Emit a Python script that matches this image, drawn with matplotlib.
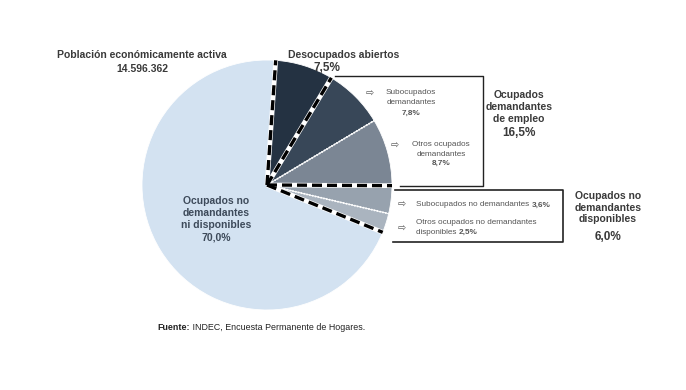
import numpy as np
import matplotlib
matplotlib.use("Agg")
import matplotlib.pyplot as plt

plt.rcParams['font.family'] = ['Liberation Sans', 'DejaVu Sans']

# Data
categories = ["Desocupados abiertos", "Subocupados demandantes", "Otros ocupados demandantes",
              "Subocupados no demandantes", "Otros ocupados no demandantes disponibles",
              "Ocupados no demandantes ni disponibles"]
values = [7.5, 7.8, 8.7, 3.6, 2.5, 70.0]
colors = ["#243242", "#384758", "#7b8694", "#97a2ae", "#aab4bf", "#d3e2f1"]
# boundary styles after each slice: 'dash' or 'dot'
boundary_styles = ["dash", "dot", "dash", "dot", "dash"]

W, H = 686, 390
fig = plt.figure(figsize=(W / 100, H / 100), dpi=100)
ax = fig.add_axes([0, 0, 1, 1])

def Y(y):
    return H - y

cx, cy, R = 267, Y(185), 125
start = 86
ax.pie(values, colors=colors, startangle=start, counterclock=False,
       center=(cx, cy), radius=R, wedgeprops=dict(linewidth=0.6, edgecolor="white"))

tot = sum(values)
angles = [start]
for v in values:
    angles.append(angles[-1] - v / tot * 360)

def radial(a, style):
    x1 = cx + R * np.cos(np.radians(a))
    y1 = cy + R * np.sin(np.radians(a))
    if style == "dash":
        ax.plot([cx, x1], [cy, y1], color="white", lw=3.4, solid_capstyle="butt", zorder=5)
        ax.plot([cx, x1], [cy, y1], color="black", lw=2.4, dashes=(3.0, 1.5), zorder=6)
    else:
        ax.plot([cx, x1], [cy, y1], color="white", lw=1.3, dashes=(0.8, 0.8), zorder=5)

radial(angles[0], "dash")
for a, s in zip(angles[1:-1], boundary_styles):
    radial(a, s)

# boxes
lc = "#222222"
ax.plot([335, 483, 483, 400], [Y(76), Y(76), Y(186), Y(186)], color=lc, lw=1.0, zorder=1)
ax.plot([395, 563, 563, 393], [Y(190), Y(190), Y(242), Y(242)], color=lc, lw=1.2, zorder=1)

dark = "#3a3a3a"
slate = "#3d4a5a"
gray = "#555555"
BF = 7.5
PF = 8.5
SF = 5.9

ax.text(142, Y(55), "Población económicamente activa", ha="center", va="center",
        fontsize=BF, fontweight="bold", color=dark)
ax.text(142, Y(69), "14.596.362", ha="center", va="center",
        fontsize=BF, fontweight="bold", color=dark)

ax.text(344, Y(55), "Desocupados abiertos", ha="center", va="center",
        fontsize=BF, fontweight="bold", color=dark)
ax.text(327, Y(68), "7,5%", ha="center", va="center",
        fontsize=PF, fontweight="bold", color=dark)

arrow = "\u21e8"
AF = 7
ax.text(370, Y(94), arrow, ha="center", va="center", fontsize=AF, color=gray,
        family="DejaVu Sans")
ax.text(411, Y(93), "Subocupados", ha="center", va="center", fontsize=SF, color=gray)
ax.text(411, Y(103), "demandantes", ha="center", va="center", fontsize=SF, color=gray)
ax.text(411, Y(113), "7,8%", ha="center", va="center", fontsize=SF, fontweight="bold", color=gray)

ax.text(395, Y(146), arrow, ha="center", va="center", fontsize=AF, color=gray,
        family="DejaVu Sans")
ax.text(441, Y(144), "Otros ocupados", ha="center", va="center", fontsize=SF, color=gray)
ax.text(441, Y(154), "demandantes", ha="center", va="center", fontsize=SF, color=gray)
ax.text(441, Y(163), "8,7%", ha="center", va="center", fontsize=SF, fontweight="bold", color=gray)

for yy, s in zip([95, 107, 119], ["Ocupados", "demandantes", "de empleo"]):
    ax.text(519, Y(yy), s, ha="center", va="center", fontsize=BF, fontweight="bold", color=dark)
ax.text(519, Y(133), "16,5%", ha="center", va="center", fontsize=PF, fontweight="bold", color=dark)

def mixed(x, y, normal, bold):
    t = ax.text(x, Y(y), normal, ha="left", va="center", fontsize=SF, color=gray)
    fig.canvas.draw()
    bb = t.get_window_extent()
    ax.text(x + bb.width, Y(y), bold, ha="left", va="center", fontsize=SF,
            fontweight="bold", color=gray)

ax.text(402, Y(205), arrow, ha="center", va="center", fontsize=AF, color=gray,
        family="DejaVu Sans")
mixed(416, 205, "Subocupados no demandantes ", "3,6%")

ax.text(402, Y(229), arrow, ha="center", va="center", fontsize=AF, color=gray,
        family="DejaVu Sans")
ax.text(416, Y(223), "Otros ocupados no demandantes", ha="left", va="center", fontsize=SF, color=gray)
mixed(416, 232, "disponibles ", "2,5%")

for yy, s in zip([196, 208, 219], ["Ocupados no", "demandantes", "disponibles"]):
    ax.text(608, Y(yy), s, ha="center", va="center", fontsize=BF, fontweight="bold", color=dark)
ax.text(608, Y(237), "6,0%", ha="center", va="center", fontsize=PF, fontweight="bold", color=dark)

for yy, s in zip([201, 213, 225], ["Ocupados no", "demandantes", "ni disponibles"]):
    ax.text(216, Y(yy), s, ha="center", va="center", fontsize=BF, fontweight="bold", color=slate)
ax.text(216, Y(238), "70,0%", ha="center", va="center", fontsize=BF, fontweight="bold", color=slate)

f1 = ax.text(157, Y(327), "Fuente:", ha="left", va="center", fontsize=6.4, fontweight="bold", color="#222222")
fig.canvas.draw()
bf = f1.get_window_extent()
ax.text(157 + bf.width, Y(327), " INDEC, Encuesta Permanente de Hogares.", ha="left", va="center",
        fontsize=6.4, color="#222222")

ax.set_xlim(0, W)
ax.set_ylim(0, H)
ax.set_aspect("equal")
ax.axis("off")
fig.savefig("out.png", dpi=100, facecolor="white")
